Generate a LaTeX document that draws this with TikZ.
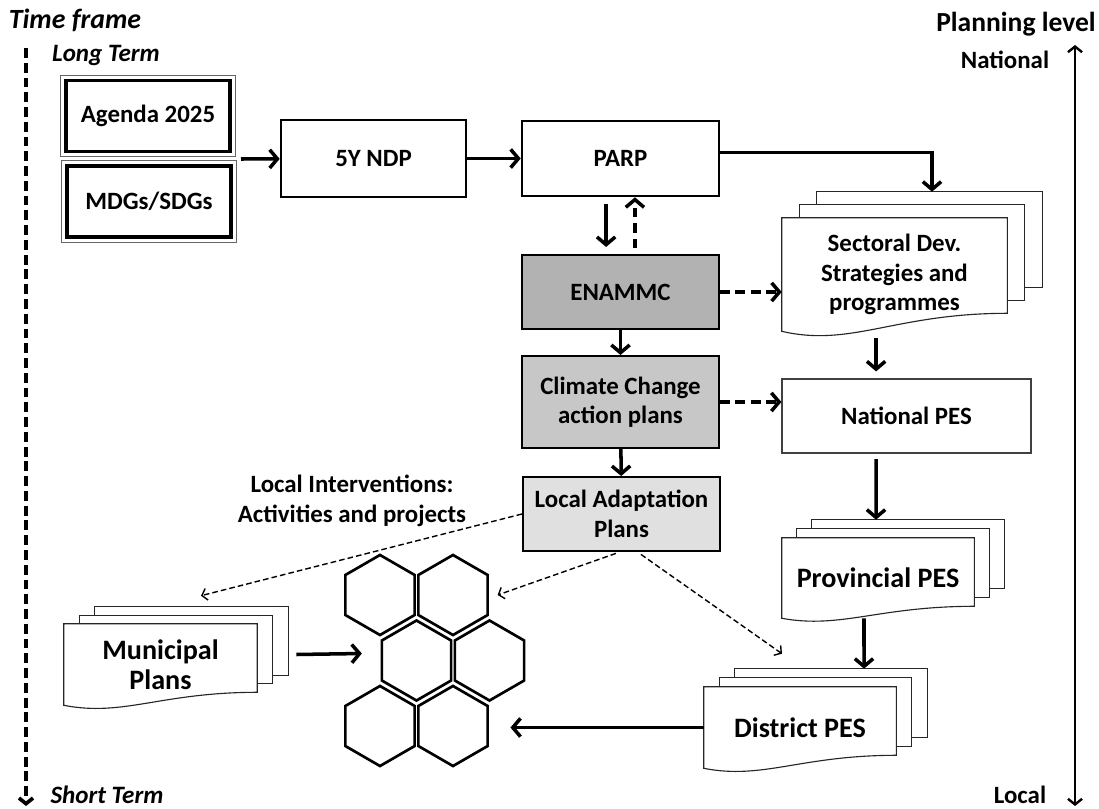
\documentclass[tikz,border=0pt]{standalone}
\usepackage{fontspec}
\setmainfont{Carlito}
\usetikzlibrary{arrows.meta,shapes.geometric,backgrounds}

\newcommand{\boxfont}{\fontsize{17.7}{21}\selectfont\bfseries}
\newcommand{\docfont}{\fontsize{20}{21.5}\selectfont\bfseries}
\newcommand{\headfont}{\fontsize{19.8}{23}\selectfont\bfseries\itshape}
\newcommand{\termfont}{\fontsize{17.8}{21}\selectfont\bfseries\itshape}
\newcommand{\levelfont}{\fontsize{19.6}{23}\selectfont\bfseries}

\tikzset{
  plain/.style={draw=black,line width=1.8pt,minimum width=4.925cm,minimum height=1.875cm,align=center,font=\boxfont},
  goal/.style={draw=black,line width=2.6pt,minimum width=4.1cm,minimum height=1.775cm,font=\boxfont},
  shaded/.style={plain,line width=1.4pt},
  page/.style={align=center,inner sep=1pt},
  pageline/.style={draw=black!85,line width=0.8pt},
  hexcell/.style={draw=black,line width=1.9pt,regular polygon,regular polygon sides=6,shape border rotate=90,minimum size=2cm,inner sep=0pt,outer sep=0pt},
  flow/.style={line width=2.5pt,-{Straight Barb[length=5.5pt,width=13pt]}},
  dflow/.style={flow,dash pattern=on 7pt off 4pt},
  hint/.style={line width=1pt,dash pattern=on 4pt off 2.2pt,-{Straight Barb[length=3.5pt,width=8.5pt]}},
  timeaxis/.style={line width=2.6pt,dash pattern=on 7pt off 3.5pt,-{Straight Barb[length=4pt,width=10pt]}},
  levelaxis/.style={line width=1.7pt,{Straight Barb[length=4pt,width=10pt]}-{Straight Barb[length=4pt,width=10pt]}},
}

% stack of pages behind a node: name, dx, dy, wave, width
\newcommand{\pagestack}[5]{%
  \begin{scope}[on background layer]
    \foreach \k in {2,1}
      \draw[pageline,fill=white] ([shift={(\k*#2,-\k*#3)}]#1.north west) rectangle ([shift={(\k*#2,-\k*#3-#4)}]#1.south east);
    \draw[pageline,fill=white] (#1.south west) -- (#1.north west) -- (#1.north east) -- ([shift={(0,-#4)}]#1.south east)
      .. controls +(-0.5*#5,0) and +(0.31*#5,0.9*#4) .. (#1.south west) -- cycle;
  \end{scope}}

\begin{document}
\begin{tikzpicture}[x=0.025cm,y=-0.025cm]
\useasboundingbox (0,0) rectangle (1099,809);

% axes
\node[font=\headfont] (timeframe) at (75,20) {Time frame};
\node[font=\termfont] (longterm) at (106,55) {Long Term};
\node[font=\termfont,inner sep=0pt] (shortterm) at (107,795) {Short Term};
\coordinate (tftop) at (26,48);
\coordinate (tfbot) at (26,806);
\draw[timeaxis] (tftop) -- (tfbot);

\node[font=\levelfont] (planlevel) at (1016,24) {Planning level};
\node[font=\boxfont] (national) at (1005,60) {National};
\node[font=\boxfont,inner sep=0pt] (local) at (1020,795) {Local};
\coordinate (pltop) at (1075,45);
\coordinate (plbot) at (1075,806);
\draw[levelaxis] (pltop) -- (plbot);

% national plans
\node[goal] (agenda) at (148,116) {Agenda 2025};
\node[goal] (mdgs) at (149,201.5) {MDGs/SDGs};
\draw[line width=0.6pt,draw=black!60] ([shift={(-3.5,-3.5)}]agenda.north west) rectangle ([shift={(3.5,3.5)}]agenda.south east);
\draw[line width=0.6pt,draw=black!60] ([shift={(-3.5,-3.5)}]mdgs.north west) rectangle ([shift={(3.5,3.5)}]mdgs.south east);
\coordinate (goals) at (241,159);

\node[plain,minimum width=4.625cm,minimum height=1.925cm] (ndp) at (373.5,158.5) {5Y NDP};
\node[plain] (parp) at (620.5,158.5) {PARP};
\node[shaded,fill=black!30,minimum height=1.85cm] (enammc) at (620.5,292) {ENAMMC};
\node[shaded,fill=black!22,minimum height=2.3cm] (ccap) at (620.5,402) {Climate Change\\action plans};
\node[shaded,fill=black!12,minimum height=1.85cm] (lap) at (621.5,514) {Local Adaptation\\Plans};
\node[font=\boxfont,align=center] (localint) at (352,501) {Local Interventions:\\Activities and projects};

% sectoral and PES documents
\node[page,font=\boxfont,minimum width=5.625cm,minimum height=2.825cm] (sect) at (894.5,274.5) {Sectoral Dev.\\Strategies and\\programmes};
\pagestack{sect}{17.5}{13}{18}{225}
\node[plain,draw=black!75,line width=0.8pt,minimum width=6.225cm,minimum height=1.85cm] (npes) at (906.5,416) {National PES};
\node[page,font=\docfont,minimum width=4.8cm,minimum height=2cm] (prov) at (878,578) {Provincial PES};
\pagestack{prov}{15}{9}{12}{192}
\node[page,font=\docfont,minimum width=4.8cm,minimum height=2.025cm] (dist) at (800,727.5) {District PES};
\pagestack{dist}{15.5}{9}{13}{192}
\node[page,font=\docfont,minimum width=4.825cm,minimum height=2.025cm] (mun) at (160.5,664.5) {Municipal\\Plans};
\pagestack{mun}{15.5}{8.5}{13}{193}

% local cells
\foreach \n/\x/\y in {1/380/595, 2/453/595, 3/416.5/660.5, 4/489.5/660.5, 5/380/726, 6/453/726}
  \node[hexcell] (hex\n) at (\x,\y) {};

% links
\draw[flow] (goals) -- (ndp);
\draw[flow] (ndp) -- (parp);
\draw[flow] ([yshift=0.15cm]parp.east) -| ([shift={(37.5,-26)}]sect.north);
\draw[flow,shorten <=5pt,shorten >=5pt] ([xshift=-0.36cm]parp.south) -- ([xshift=-0.36cm]enammc.north);
\draw[dflow,shorten <=4pt] ([xshift=0.36cm]enammc.north) -- ([xshift=0.36cm]parp.south);
\draw[flow] (enammc) -- (ccap);
\draw[flow] (ccap) -- (lap);
\draw[dflow] (enammc.east) -- (enammc.east -| sect.west);
\draw[dflow] (ccap.east) -- (ccap.east -| npes.west);
\draw[flow,shorten <=5pt,shorten >=5pt] ([xshift=-0.46cm]sect.south) -- ([xshift=-0.46cm]sect.south |- npes.north);
\draw[flow,shorten <=4pt] ([xshift=-0.76cm]npes.south) -- ([shift={(-2,-18)}]prov.north);
\draw[flow] ([xshift=-0.35cm]prov.south) -- ([shift={(64,-18)}]dist.north);
\draw[flow,shorten >=0.57cm] (dist.west) -- (dist.west -| hex6.east);
\draw[flow] ([shift={(39,-10)}]mun.east) -- ([shift={(-20,-7)}]hex3.west);
\draw[hint] (lap.west) -- ([shift={(40.5,-28)}]mun.north);
\draw[hint,shorten <=3pt] ([xshift=-0.04cm]lap.south) -- ([shift={(10,0)}]hex2.east);
\draw[hint,shorten <=3pt] ([xshift=0.4cm]lap.south) -- ([shift={(-18,-33)}]dist.north);
\end{tikzpicture}
\end{document}
